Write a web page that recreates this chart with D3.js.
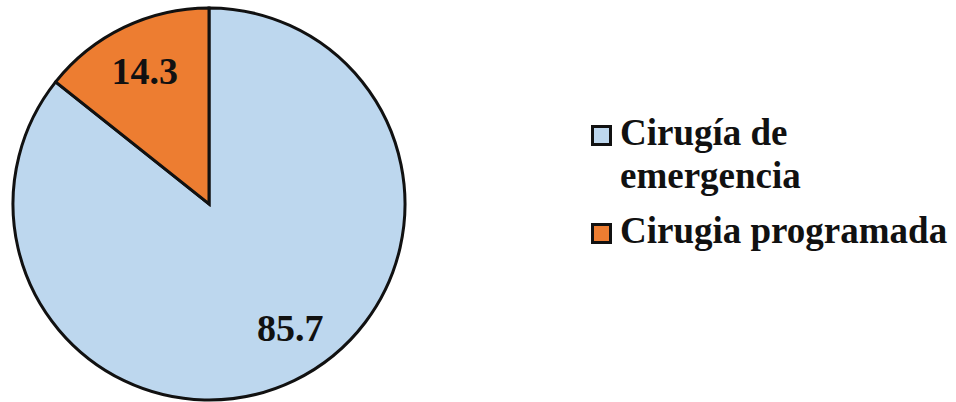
<!DOCTYPE html>
<html>
<head>
<meta charset="utf-8">
<script src="https://cdn.jsdelivr.net/npm/d3@7"></script>
<style>
  html, body { margin: 0; padding: 0; background: #fff; }
  svg { display: block; }
  text { font-family: "Liberation Serif", "Times New Roman", serif; font-weight: bold; fill: #111; }
</style>
</head>
<body>
<div id="chart"></div>
<script>
// datos
const categories = ['Cirugía de emergencia', 'Cirugia programada'];
const values = [85.7, 14.3];
const colors = ['#BDD7EE', '#ED7D31'];

const W = 956, H = 402;
const cx = 209, cy = 204, r = 196;

const svg = d3.select('#chart').append('svg')
    .attr('width', W)
    .attr('height', H);

const data = categories.map((c, i) => ({ name: c, value: values[i], color: colors[i] }));

const pie = d3.pie()
    .sort(null)
    .value(d => d.value);

const arc = d3.arc()
    .innerRadius(0)
    .outerRadius(r);

const labelArc = d3.arc()
    .innerRadius(148)
    .outerRadius(148);

const g = svg.append('g')
    .attr('transform', `translate(${cx},${cy})`);

const arcs = pie(data);

g.selectAll('path')
    .data(arcs)
    .join('path')
    .attr('d', arc)
    .attr('fill', d => d.data.color)
    .attr('stroke', '#111')
    .attr('stroke-width', 3)
    .attr('stroke-linejoin', 'miter');

// Excel no pone la etiqueta del sector grande justo en el medio, la gira un poco
const labelAngle = d => {
    const mid = (d.startAngle + d.endAngle) / 2;
    if (d.endAngle - d.startAngle > Math.PI) return Math.min(mid, Math.PI * 0.815);
    return mid;
};

g.selectAll('text.val')
    .data(arcs)
    .join('text')
    .attr('class', 'val')
    .attr('transform', d => {
        const a = labelAngle(d);
        const [x, y] = labelArc.centroid({ startAngle: a, endAngle: a });
        return `translate(${x},${y})`;
    })
    .attr('text-anchor', 'middle')
    .attr('dy', '0.35em')
    .style('font-size', '38px')
    .text(d => d.value.toFixed(1));

// leyenda
const legend = svg.append('g')
    .attr('transform', 'translate(591,0)');

const maxW = 330;
const lineH = 43;
let y = 145;

data.forEach((d, i) => {
    const item = legend.append('g');
    item.append('rect')
        .attr('x', 1.5)
        .attr('y', y - 18.5)
        .attr('width', 18)
        .attr('height', 18)
        .attr('fill', d.color)
        .attr('stroke', '#111')
        .attr('stroke-width', 3);

    const t = item.append('text')
        .attr('x', 29)
        .attr('y', y)
        .style('font-size', '37px');

    // salto de línea como lo hace Excel
    const words = d.name.split(' ');
    let line = [];
    let tspan = t.append('tspan').attr('x', 29).attr('y', y);
    let lines = 1;
    words.forEach(w => {
        line.push(w);
        tspan.text(line.join(' '));
        if (tspan.node().getComputedTextLength() > maxW && line.length > 1) {
            line.pop();
            tspan.text(line.join(' '));
            line = [w];
            tspan = t.append('tspan')
                .attr('x', 29)
                .attr('y', y + lines * lineH)
                .text(w);
            lines++;
        }
    });
    y += (lines - 1) * lineH + 55;
});
</script>
</body>
</html>
